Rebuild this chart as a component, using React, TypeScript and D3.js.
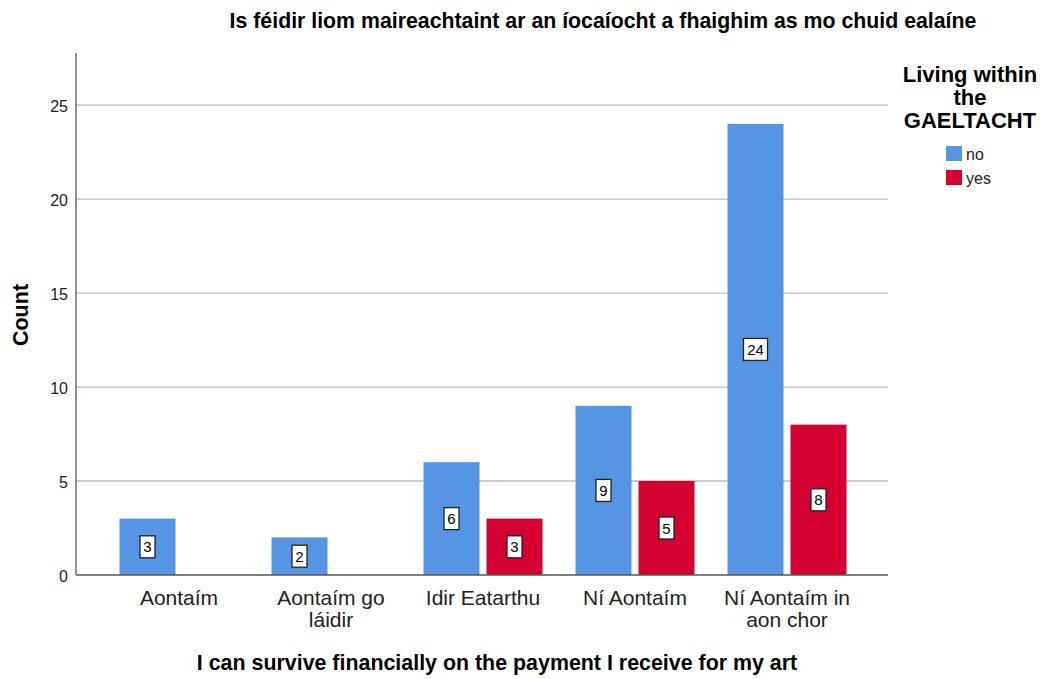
import React from "react";
import * as d3 from "d3";

const categories = ["Aontaím", "Aontaím go láidir", "Idir Eatarthu", "Ní Aontaím", "Ní Aontaím in aon chor"];
const categoryLines = [["Aontaím"], ["Aontaím go", "láidir"], ["Idir Eatarthu"], ["Ní Aontaím"], ["Ní Aontaím in", "aon chor"]];
const seriesNames = ["no", "yes"];
const noValues = [3, 2, 6, 9, 24];
const yesValues = [0, 0, 3, 5, 8];
const yTicks = [0, 5, 10, 15, 20, 25];
const colors = ["#5595e3", "#d50032"];

export default function App() {
  const W = 1046, H = 679;
  const left = 76, right = 888, top = 53, bottom = 575;
  const x0 = d3.scaleBand<string>().domain(categories).range([103, 863]);
  const y = d3.scaleLinear().domain([0, 27.77]).range([bottom, top]);
  const barW = 56, gap = 7;
  const series = [noValues, yesValues];
  const font = "Arial, 'Liberation Sans', sans-serif";

  return (
    <svg width={W} height={H} style={{ display: "block", position: "absolute", left: 0, top: 0 }} fontFamily={font}>
      <rect width={W} height={H} fill="#fff" />
      <text x={603} y={28} textAnchor="middle" fontSize={21.3} fontWeight="bold" fill="#000">
        Is féidir liom maireachtaint ar an íocaíocht a fhaighim as mo chuid ealaíne
      </text>
      {yTicks.filter(t => t > 0).map(t => (
        <line key={t} x1={left} x2={right} y1={y(t)} y2={y(t)} stroke="#bdbdbd" strokeWidth={1.3} />
      ))}
      {yTicks.map(t => (
        <text key={t} x={68} y={y(t) + 7} textAnchor="end" fontSize={16} fill="#222">{t}</text>
      ))}
      <text transform={`translate(28,315) rotate(-90)`} textAnchor="middle" fontSize={21.5} fontWeight="bold" fill="#000">Count</text>
      {categories.map((c, i) => {
        const cx = x0(c)! + x0.bandwidth() / 2;
        const groupLeft = cx - (barW * 2 + gap) / 2;
        return (
          <g key={c}>
            {series.map((s, j) => {
              const v = s[i];
              if (!v) return null;
              const bx = groupLeft + j * (barW + gap);
              const by = y(v);
              const cy = (by + bottom) / 2;
              const label = String(v);
              const bw = label.length > 1 ? 24 : 15;
              return (
                <g key={j}>
                  <rect x={bx} y={by} width={barW} height={bottom - by} fill={colors[j]} />
                  <rect x={bx + barW / 2 - bw / 2} y={cy - 11} width={bw} height={22} fill="#fff" stroke="#222" strokeWidth={1.3} />
                  <text x={bx + barW / 2} y={cy + 5.5} textAnchor="middle" fontSize={15} fill="#000">{label}</text>
                </g>
              );
            })}
            {categoryLines[i].map((ln, k) => (
              <text key={k} x={cx} y={605 + k * 22} textAnchor="middle" fontSize={21} fill="#222">{ln}</text>
            ))}
          </g>
        );
      })}
      <line x1={left} x2={left} y1={top} y2={bottom} stroke="#555" strokeWidth={1.3} />
      <line x1={left} x2={right} y1={bottom} y2={bottom} stroke="#555" strokeWidth={1.3} />
      <text x={497} y={670} textAnchor="middle" fontSize={21.4} fontWeight="bold" fill="#000">
        I can survive financially on the payment I receive for my art
      </text>
      {["Living within", "the", "GAELTACHT"].map((t, k) => (
        <text key={k} x={970} y={82 + k * 23} textAnchor="middle" fontSize={22} fontWeight="bold" fill="#000">{t}</text>
      ))}
      {seriesNames.map((n, j) => (
        <g key={n}>
          <rect x={946} y={146 + j * 24} width={16} height={15} fill={colors[j]} />
          <text x={966} y={160 + j * 24} fontSize={16} fill="#222">{n}</text>
        </g>
      ))}
    </svg>
  );
}
